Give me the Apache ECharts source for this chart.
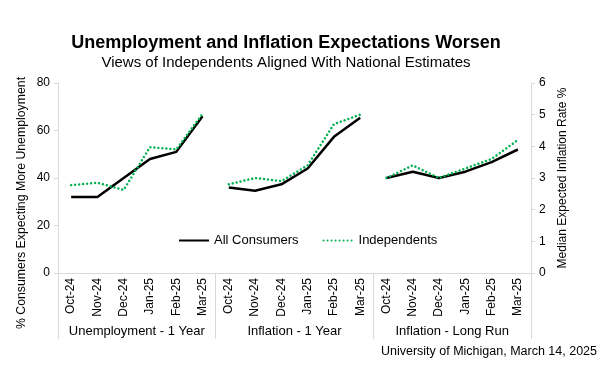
<!DOCTYPE html>
<html>
<head>
<meta charset="utf-8">
<script src="https://cdn.jsdelivr.net/npm/echarts@6/dist/echarts.min.js"></script>
<style>
  html, body { margin: 0; padding: 0; background: #fff; }
  #chart { width: 600px; height: 375px; }
</style>
</head>
<body>
<div id="chart"></div>
<script>
const months = ['Oct-24', 'Nov-24', 'Dec-24', 'Jan-25', 'Feb-25', 'Mar-25'];
const groups = ['Unemployment - 1 Year', 'Inflation - 1 Year', 'Inflation - Long Run'];

// % consumers expecting more unemployment (left axis)
const unempAll = [32, 32, 40, 48, 51, 66];
const unempInd = [37, 38, 35, 53, 52, 67];
// median expected inflation rate % (right axis)
const infl1yAll = [2.7, 2.6, 2.8, 3.3, 4.3, 4.9];
const infl1yInd = [2.8, 3.0, 2.9, 3.4, 4.7, 5.0];
const inflLrAll = [3.0, 3.2, 3.0, 3.2, 3.5, 3.9];
const inflLrInd = [3.0, 3.4, 3.0, 3.3, 3.6, 4.2];

const leftMax = 80, leftStep = 20;
const rightMax = 6, rightStep = 1;

const FONT = '"Liberation Sans", Arial, sans-serif';
const GRAY = '#d9d9d9';

// 18 slots, one group of 6 months per panel
const categories = groups.flatMap(() => months);
const place = (values, g) => categories.map((_, i) =>
  (i >= g * months.length && i < (g + 1) * months.length) ? values[i - g * months.length] : null);

const allStyle = { color: '#000', width: 2.5 };
const indStyle = { color: '#00b050', width: 2.5, type: [0.01, 4], cap: 'round' };

const mkSeries = (name, values, g, yIdx, style) => ({
  name, type: 'line', xAxisIndex: 0, yAxisIndex: yIdx,
  data: place(values, g), symbol: 'none', connectNulls: false,
  lineStyle: style, itemStyle: { color: style.color },
  emphasis: { disabled: true }, animation: false
});

const chart = echarts.init(document.getElementById('chart'));
chart.setOption({
  animation: false,
  textStyle: { fontFamily: FONT },
  graphic: [
    { type: 'text', x: 286, y: 43, style: { text: 'Unemployment and Inflation Expectations Worsen',
      fontFamily: FONT, fontSize: 18, fontWeight: 'bold', fill: '#000', align: 'center', verticalAlign: 'middle' } },
    { type: 'text', x: 286, y: 63, style: { text: 'Views of Independents Aligned With National Estimates',
      fontFamily: FONT, fontSize: 15, fill: '#000', align: 'center', verticalAlign: 'middle' } },
    { type: 'text', x: 597, y: 352, style: { text: 'University of Michigan, March 14, 2025',
      fontFamily: FONT, fontSize: 12.5, fill: '#000', align: 'right', verticalAlign: 'middle' } },
    { type: 'text', x: 22, y: 203, rotation: Math.PI / 2, style: { text: '% Consumers Expecting More Unemployment',
      fontFamily: FONT, fontSize: 12.3, fill: '#000', align: 'center', verticalAlign: 'middle' } }
  ],
  legend: {
    data: ['All Consumers', 'Independents'],
    left: 173, top: 229,
    itemWidth: 30, itemHeight: 14, itemGap: 24,
    itemStyle: { opacity: 0 },
    textStyle: { fontSize: 13, color: '#000', fontFamily: FONT }
  },
  grid: { left: 58, right: 69, top: 83, bottom: 102 },
  xAxis: [
    {
      type: 'category', data: categories, boundaryGap: true,
      axisLine: { lineStyle: { color: GRAY, width: 1 } },
      axisTick: { show: false },
      axisLabel: { interval: 0, rotate: 90, margin: 5, fontSize: 12, color: '#000', fontFamily: FONT }
    },
    {
      type: 'category', data: groups, boundaryGap: true, position: 'bottom',
      axisLine: { show: false },
      axisTick: { show: true, length: 66, lineStyle: { color: GRAY, width: 1 } },
      axisLabel: { interval: 0, margin: 52, fontSize: 13, color: '#000', fontFamily: FONT }
    }
  ],
  yAxis: [
    {
      type: 'value', position: 'left', min: 0, max: leftMax, interval: leftStep,
      axisLine: { show: true, lineStyle: { color: GRAY } },
      axisTick: { show: true, length: 4, lineStyle: { color: GRAY } },
      splitLine: { show: false },
      axisLabel: { margin: 8, fontSize: 12, color: '#000', fontFamily: FONT }
    },
    {
      type: 'value', position: 'right', min: 0, max: rightMax, interval: rightStep,
      name: 'Median Expected Inflation Rate %', nameLocation: 'middle', nameGap: 25,
      nameTextStyle: { fontSize: 12, color: '#000', fontFamily: FONT },
      axisLine: { show: true, lineStyle: { color: GRAY } },
      axisTick: { show: true, length: 4, lineStyle: { color: GRAY } },
      splitLine: { show: false },
      axisLabel: { margin: 8, fontSize: 12, color: '#000', fontFamily: FONT }
    }
  ],
  series: [
    mkSeries('All Consumers', unempAll, 0, 0, allStyle),
    mkSeries('Independents', unempInd, 0, 0, indStyle),
    mkSeries('All Consumers', infl1yAll, 1, 1, allStyle),
    mkSeries('Independents', infl1yInd, 1, 1, indStyle),
    mkSeries('All Consumers', inflLrAll, 2, 1, allStyle),
    mkSeries('Independents', inflLrInd, 2, 1, indStyle)
  ]
});
</script>
</body>
</html>
